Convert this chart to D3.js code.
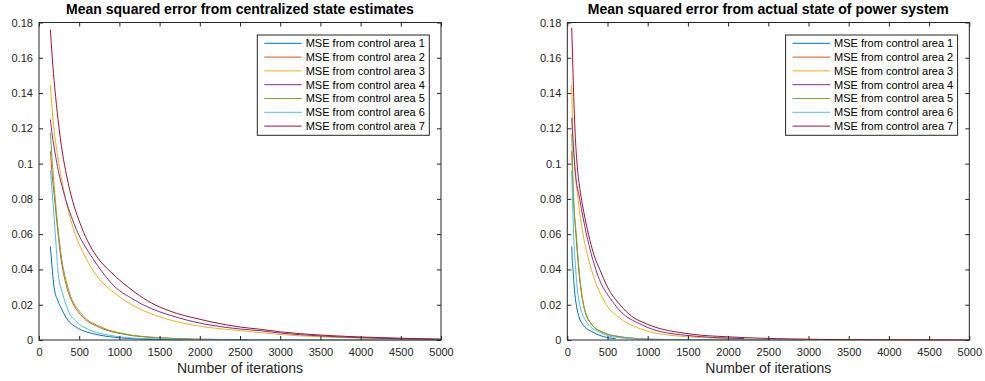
<!DOCTYPE html>
<html>
<head>
<meta charset="utf-8">
<script src="https://cdn.jsdelivr.net/npm/d3@7"></script>
<style>
  body { margin: 0; background: #ffffff; }
  text { font-family: "Liberation Sans", Arial, Helvetica, sans-serif; }
</style>
</head>
<body>
<div id="chart-area"></div>
<script>
// ---- data ----
const areaLabels = [
  "MSE from control area 1", "MSE from control area 2", "MSE from control area 3",
  "MSE from control area 4", "MSE from control area 5", "MSE from control area 6",
  "MSE from control area 7"
];
const panelTitles = [
  "Mean squared error from centralized state estimates",
  "Mean squared error from actual state of power system"
];
const xLabelText = "Number of iterations";
const xTickValues = [0, 500, 1000, 1500, 2000, 2500, 3000, 3500, 4000, 4500, 5000];
const yTickValues = [0, 0.02, 0.04, 0.06, 0.08, 0.1, 0.12, 0.14, 0.16, 0.18];

// [iteration, mse] -- left panel (centralized estimates)
const centralArea1 = [[142,0.053],[166,0.0394],[187,0.030],[237,0.022],[282,0.0175],[340,0.0125],[489,0.0066],[650,0.0038],[800,0.0024],[1100,0.0009],[1400,0.0004],[1780,0.0001]];
const centralArea2 = [[142,0.107],[165,0.093],[187,0.083],[224,0.066],[265,0.049],[345,0.030],[420,0.021],[515,0.0145],[760,0.007],[1050,0.0033],[1500,0.0012],[2000,0.0005],[2600,0.0002]];
const centralArea3 = [[142,0.1445],[175,0.1246],[228,0.1057],[282,0.091],[402,0.067],[589,0.046],[780,0.033],[900,0.028],[1194,0.019],[1298,0.0167],[1712,0.0104],[2127,0.0070],[2508,0.0053],[2749,0.0042],[3006,0.0031],[3503,0.0018],[4008,0.0011],[4507,0.0006],[5000,0.0003]];
const centralArea4 = [[142,0.125],[165,0.116],[200,0.106],[240,0.096],[299,0.085],[435,0.066],[672,0.046],[780,0.039],[883,0.033],[1194,0.0225],[1298,0.0199],[1712,0.0129],[2127,0.0085],[2508,0.0062],[2749,0.0053],[3006,0.0039],[3503,0.0023],[4008,0.0013],[4507,0.0007],[5000,0.0003]];
const centralArea5 = [[142,0.1174],[165,0.101],[187,0.088],[224,0.069],[270,0.050],[365,0.029],[527,0.015],[775,0.0073],[1066,0.0035],[1500,0.0013],[1900,0.0005]];
const centralArea6 = [[142,0.0962],[175,0.0773],[203,0.060],[240,0.037],[290,0.027],[365,0.0165],[464,0.0105],[651,0.0053],[900,0.0025],[1300,0.0008],[2000,0.0002],[3000,0.0001],[5000,0]];
const centralArea7 = [[142,0.176],[165,0.160],[196,0.143],[237,0.125],[292,0.106],[344,0.093],[383,0.085],[529,0.064],[740,0.046],[883,0.039],[1194,0.027],[1298,0.0237],[1712,0.0151],[1940,0.0124],[2127,0.0104],[2508,0.0073],[2749,0.0061],[3006,0.0046],[3503,0.0028],[4008,0.0017],[4507,0.0010],[5000,0.0005]];

// [iteration, mse] -- right panel (actual state)
const actualArea1 = [[55,0.053],[62,0.045],[71,0.040],[90,0.028],[112,0.020],[187,0.0091],[321,0.0044],[487,0.0015],[600,0.0008]];
const actualArea2 = [[55,0.107],[68,0.090],[80,0.078],[110,0.058],[144,0.039],[202,0.0195],[300,0.009],[446,0.0042],[654,0.0018],[900,0.0007],[1200,0.0003]];
const actualArea3 = [[55,0.1445],[62,0.130],[70,0.118],[90,0.100],[133,0.080],[196,0.060],[300,0.040],[487,0.020],[650,0.0125],[863,0.0072],[1321,0.0025],[2000,0.0008],[2500,0.0003]];
const actualArea4 = [[55,0.126],[75,0.110],[100,0.095],[154,0.080],[238,0.060],[354,0.040],[592,0.020],[946,0.0082],[1404,0.003],[2200,0.0008]];
const actualArea5 = [[55,0.117],[70,0.092],[79,0.080],[112,0.060],[146,0.040],[204,0.020],[300,0.0091],[446,0.0044],[654,0.0019],[850,0.0009]];
const actualArea6 = [[55,0.096],[65,0.080],[79,0.060],[104,0.040],[154,0.020],[258,0.0091],[404,0.0044],[612,0.0015],[1000,0.0004],[2950,0]];
const actualArea7 = [[55,0.177],[66,0.160],[80,0.138],[100,0.115],[125,0.098],[155,0.086],[187,0.077],[220,0.069],[279,0.057],[340,0.047],[404,0.040],[500,0.030],[654,0.020],[800,0.0135],[988,0.0091],[1529,0.0034],[2000,0.0018],[2800,0.0006],[3500,0.0002],[5000,0]];

const centralSeries = [centralArea1, centralArea2, centralArea3, centralArea4, centralArea5, centralArea6, centralArea7];
const actualSeries = [actualArea1, actualArea2, actualArea3, actualArea4, actualArea5, actualArea6, actualArea7];

// ---- layout / style ----
const WIDTH = 985, HEIGHT = 381;
const TOP = 22.5, BOTTOM = 340;
const TICK = 4;
const COLORS = ["#0072BD", "#D95319", "#EDB120", "#7E2F8E", "#77AC30", "#4DBEEE", "#A2142F"];
const AXIS_COLOR = "#262626";

const svg = d3.select("#chart-area")
  .append("svg")
    .attr("width", WIDTH)
    .attr("height", HEIGHT);

const makePanel = (left, right, title, series) => {
  const x = d3.scaleLinear().domain([0, 5000]).range([left, right]);
  const y = d3.scaleLinear().domain([0, 0.18]).range([BOTTOM, TOP]);
  const g = svg.append("g");

  // curves
  const line = d3.line()
    .x(d => x(d[0]))
    .y(d => y(d[1]))
    .curve(d3.curveMonotoneX);

  g.selectAll("path.mse")
    .data(series)
    .enter()
    .append("path")
      .attr("class", "mse")
      .attr("d", line)
      .attr("fill", "none")
      .attr("stroke", (d, i) => COLORS[i])
      .attr("stroke-width", 1);

  // box
  g.append("rect")
    .attr("x", left)
    .attr("y", TOP)
    .attr("width", right - left)
    .attr("height", BOTTOM - TOP)
    .attr("fill", "none")
    .attr("stroke", AXIS_COLOR)
    .attr("stroke-width", 1);

  // ticks pointing inward on all four sides
  const xBottom = g.append("g")
    .attr("transform", `translate(0, ${BOTTOM})`)
    .call(d3.axisBottom(x).tickValues(xTickValues).tickFormat(d3.format("d"))
      .tickSizeInner(-TICK).tickSizeOuter(0).tickPadding(8));
  const xTop = g.append("g")
    .attr("transform", `translate(0, ${TOP})`)
    .call(d3.axisTop(x).tickValues(xTickValues).tickFormat("")
      .tickSizeInner(-TICK).tickSizeOuter(0));
  const yLeft = g.append("g")
    .attr("transform", `translate(${left}, 0)`)
    .call(d3.axisLeft(y).tickValues(yTickValues).tickFormat(d => d3.format("~g")(d))
      .tickSizeInner(-TICK).tickSizeOuter(0).tickPadding(6));
  const yRight = g.append("g")
    .attr("transform", `translate(${right}, 0)`)
    .call(d3.axisRight(y).tickValues(yTickValues).tickFormat("")
      .tickSizeInner(-TICK).tickSizeOuter(0));

  [xBottom, xTop, yLeft, yRight].forEach(a => {
    a.select(".domain").remove();
    a.selectAll(".tick line").attr("stroke", AXIS_COLOR);
    a.selectAll(".tick text")
      .attr("fill", AXIS_COLOR)
      .attr("font-size", "11px")
      .attr("font-family", "Liberation Sans, Arial, sans-serif");
  });

  // title and x label
  g.append("text")
    .attr("x", (left + right) / 2)
    .attr("y", 14.3)
    .attr("text-anchor", "middle")
    .attr("font-size", "14px")
    .attr("font-weight", "bold")
    .attr("fill", "#000")
    .text(title);

  g.append("text")
    .attr("x", (left + right) / 2)
    .attr("y", 373.3)
    .attr("text-anchor", "middle")
    .attr("font-size", "14px")
    .attr("fill", AXIS_COLOR)
    .text(xLabelText);

  // legend
  const lg = g.append("g").attr("transform", `translate(${right - 183.7}, 35)`);
  lg.append("rect")
    .attr("width", 172)
    .attr("height", 100.3)
    .attr("fill", "#fff")
    .attr("stroke", AXIS_COLOR)
    .attr("stroke-width", 1);

  const rows = lg.selectAll("g.row")
    .data(areaLabels)
    .enter()
    .append("g")
      .attr("class", "row")
      .attr("transform", (d, i) => `translate(0, ${8.3 + i * 13.8})`);

  rows.append("line")
    .attr("x1", 7).attr("x2", 44.4)
    .attr("y1", 0).attr("y2", 0)
    .attr("stroke", (d, i) => COLORS[i])
    .attr("stroke-width", 1);

  rows.append("text")
    .attr("x", 48.4)
    .attr("y", 0)
    .attr("dy", "0.36em")
    .attr("font-size", "11px")
    .attr("fill", "#000")
    .text(d => d);
};

makePanel(39, 441, panelTitles[0], centralSeries);
makePanel(567.3, 969.3, panelTitles[1], actualSeries);
</script>
</body>
</html>
